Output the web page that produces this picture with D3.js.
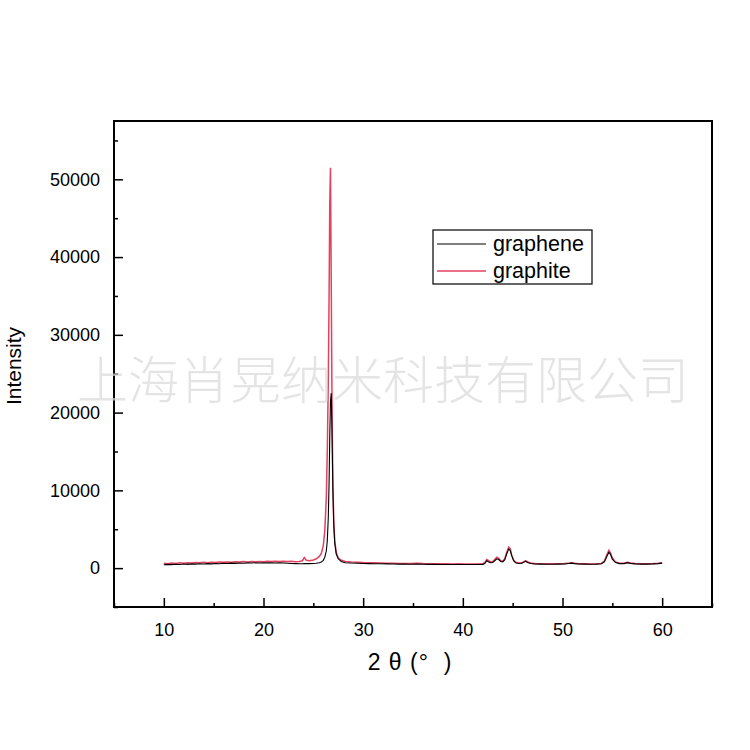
<!DOCTYPE html>
<html><head><meta charset="utf-8">
<script src="https://cdn.jsdelivr.net/npm/d3@7"></script>
<style>body{margin:0;background:#fff}svg{display:block}</style>
</head><body>
<svg id="c" width="750" height="750"></svg>
<script>
// ---- data ----
const twoTheta = [10.0,10.4,10.8,11.2,11.6,12.0,12.4,12.8,13.2,13.6,14.0,14.4,14.8,15.2,15.6,16.0,16.4,16.8,17.2,17.6,18.0,18.4,18.8,19.2,19.6,20.0,20.4,20.8,21.2,21.6,22.0,22.4,22.8,23.2,23.6,23.9,24.1,24.3,24.6,25.0,25.3,25.6,25.8,26.0,26.15,26.3,26.4,26.5,26.58,26.65,26.72,26.8,26.88,26.96,27.05,27.15,27.3,27.5,27.8,28.2,28.8,29.4,30.0,30.6,31.2,31.8,32.4,33.0,33.6,34.2,34.8,35.4,36.0,36.6,37.2,37.8,38.4,39.0,39.6,40.2,40.8,41.4,42.0,42.2,42.4,42.6,42.8,43.0,43.2,43.4,43.6,43.8,44.0,44.2,44.4,44.6,44.75,44.9,45.1,45.3,45.6,45.9,46.1,46.3,46.5,46.8,47.2,47.8,48.4,49.0,49.6,50.2,50.6,50.9,51.2,51.6,52.2,52.8,53.4,53.9,54.2,54.45,54.65,54.8,55.0,55.3,55.7,56.2,56.5,56.8,57.3,57.9,58.5,59.1,59.6,60.0];
const graphite = [620,560,650,600,680,620,700,650,720,680,740,700,760,720,780,750,800,770,820,790,840,800,850,820,860,830,870,840,880,850,880,840,870,830,860,950,1350,1000,950,1050,1200,1500,1900,2900,4800,9000,15000,24000,35000,47000,51500,36000,20000,11000,6000,3500,2000,1300,1000,850,780,760,720,700,680,660,640,620,610,600,600,620,580,570,560,550,560,540,550,530,540,530,560,700,1100,950,800,850,1100,1400,1250,950,900,1200,2000,2700,2500,1700,1000,750,650,680,800,950,800,650,580,560,550,550,560,580,640,680,620,570,550,540,550,600,900,1700,2300,2000,1300,800,620,620,750,650,580,560,560,580,620,680];
const graphene = [430,480,450,500,470,520,480,540,510,560,530,580,550,600,570,620,590,640,610,660,630,680,650,690,660,700,670,700,660,690,650,620,600,580,560,560,600,580,580,600,620,700,800,1000,1400,2200,3500,6500,11000,17000,21500,22500,17000,10000,5500,3200,1800,1200,850,700,650,620,600,580,570,560,540,530,520,510,500,510,490,480,480,470,470,460,470,460,470,460,480,600,950,800,700,720,950,1200,1100,850,800,1050,1800,2450,2300,1600,950,700,600,620,750,880,720,600,530,510,500,500,510,530,600,640,580,530,510,500,510,560,800,1500,2050,1800,1150,750,580,580,700,610,540,520,520,540,580,640];
const seriesNames = ["graphene","graphite"];
const seriesColors = ["#000000","#e3415f"];
const xTicks = [10,20,30,40,50,60];
const yTicks = [0,10000,20000,30000,40000,50000];
const xDomain = [5,65];
const yDomain = [-5000,57500];
const watermark = "上海肖晃纳米科技有限公司";

// ---- layout ----
const svg = d3.select("#c");
const L=114, R=712, T=121, B=607;
const x = d3.scaleLinear().domain(xDomain).range([L,R]);
const y = d3.scaleLinear().domain(yDomain).range([B,T]);
const font = "'Liberation Sans', Arial, sans-serif";

// axes (ticks inward)
const xAxis = d3.axisBottom(x).tickValues(xTicks).tickSize(-9).tickPadding(16).tickFormat(d3.format("d"));
const xMinor = d3.axisBottom(x).tickValues(d3.range(5,66,10)).tickSize(-4).tickFormat("");
const yAxis = d3.axisLeft(y).tickValues(yTicks).tickSize(-9).tickPadding(14).tickFormat(d3.format("d"));
const yMinor = d3.axisLeft(y).tickValues(d3.range(-5000,57501,10000)).tickSize(-4).tickFormat("");

function styleAx(g){
  g.select(".domain").remove();
  g.selectAll(".tick line").attr("stroke","#000").attr("stroke-width",1.5);
  g.selectAll("text").attr("font-family",font).attr("font-size",18).attr("fill","#000");
}
svg.append("g").attr("transform",`translate(0,${B})`).call(xAxis).call(styleAx);
svg.append("g").attr("transform",`translate(0,${B})`).call(xMinor).call(styleAx);
svg.append("g").attr("transform",`translate(${L},0)`).call(yAxis).call(styleAx);
svg.append("g").attr("transform",`translate(${L},0)`).call(yMinor).call(styleAx);

// lines
svg.append("clipPath").attr("id","pc").append("rect").attr("x",L).attr("y",T).attr("width",R-L).attr("height",B-T);
const line = vals => d3.line().x((d,i)=>x(twoTheta[i])).y(d=>y(d))(vals);
svg.append("path").attr("d",line(graphite)).attr("fill","none").attr("stroke",seriesColors[1]).attr("stroke-width",1.5).attr("clip-path","url(#pc)");
svg.append("path").attr("d",line(graphene)).attr("fill","none").attr("stroke",seriesColors[0]).attr("stroke-width",1.1).attr("clip-path","url(#pc)");

// frame
svg.append("rect").attr("x",L).attr("y",T).attr("width",R-L).attr("height",B-T)
  .attr("fill","none").attr("stroke","#000").attr("stroke-width",2);

// legend
const lg = svg.append("g");
lg.append("rect").attr("x",433).attr("y",230).attr("width",159).attr("height",54)
  .attr("fill","#fff").attr("stroke","#000").attr("stroke-width",1.2);
seriesNames.forEach((n,i)=>{
  const yy = 244 + i*27;
  lg.append("line").attr("x1",437).attr("x2",486).attr("y1",yy).attr("y2",yy)
    .attr("stroke",seriesColors[i]).attr("stroke-width",i?1.6:1.1);
  lg.append("text").attr("x",493).attr("y",yy+7).text(n)
    .attr("font-family",font).attr("font-size",21.5).attr("fill","#000");
});

// axis titles
svg.append("text").attr("transform","translate(21,366) rotate(-90)").attr("text-anchor","middle")
  .attr("font-family",font).attr("font-size",21).text("Intensity");
svg.append("text").attr("x",410).attr("y",670).attr("text-anchor","middle")
  .attr("font-family",font).attr("font-size",23).attr("letter-spacing",1)
  .style("white-space","pre").text("2 θ (°  )");

// watermark
svg.append("text").attr("x",383).attr("y",399).attr("text-anchor","middle")
  .attr("font-family","'Noto Sans CJK SC', sans-serif").attr("font-size",51).attr("font-weight",300)
  .attr("fill","#d9d9d9").attr("fill-opacity",0.7).text(watermark);
</script>
</body></html>
